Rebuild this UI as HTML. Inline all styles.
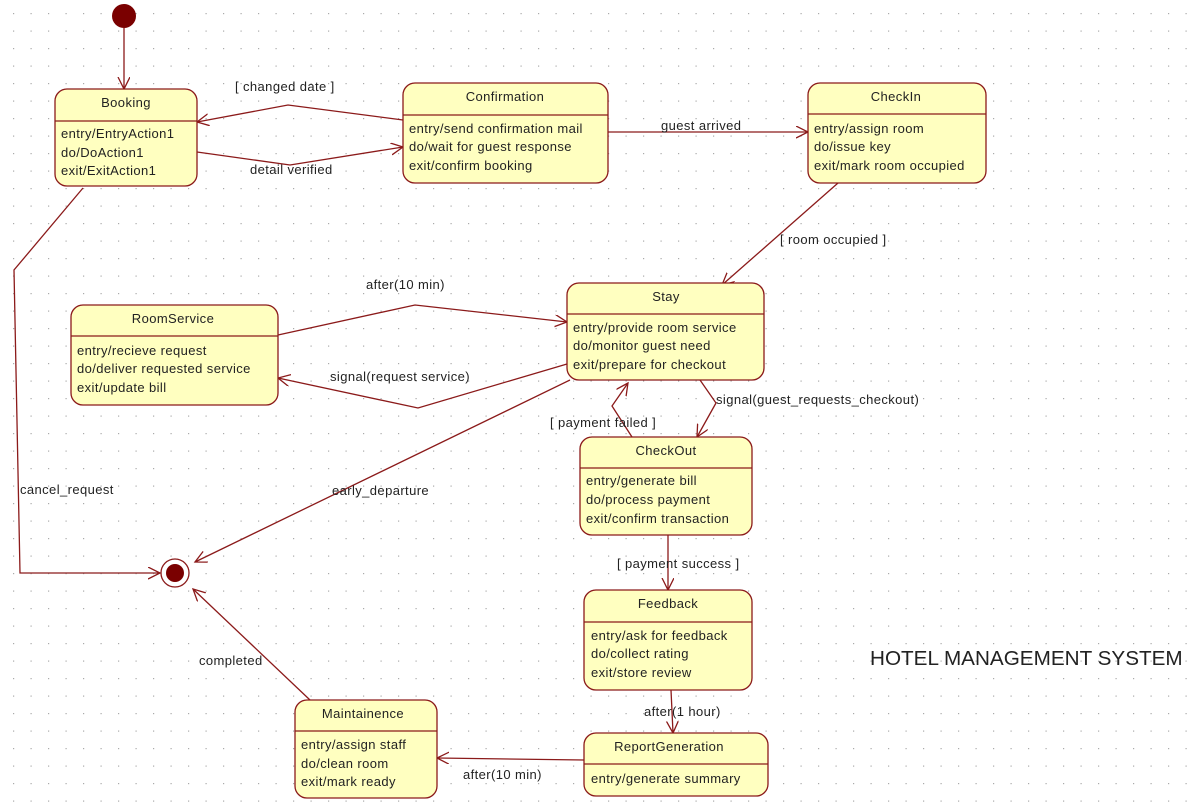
<!DOCTYPE html>
<html><head><meta charset="utf-8"><style>
html,body{margin:0;padding:0;background:#fff;}
svg{display:block;}
text{font-family:"Liberation Sans","DejaVu Sans",sans-serif;font-size:13px;letter-spacing:0.4px;fill:#222;}
.b{fill:#ffffc0;stroke:#8b1a1a;stroke-width:1.3;}
.l{stroke:#8b1a1a;stroke-width:1.3;fill:none;}
.e{stroke:#8b1a1a;stroke-width:1.3;fill:none;marker-end:url(#a);}
.t{text-anchor:middle;}
</style></head><body>
<svg width="1200" height="807" viewBox="0 0 1200 807" xmlns="http://www.w3.org/2000/svg">
<defs>
<pattern id="g" width="17.5" height="17.5" patternUnits="userSpaceOnUse" x="5" y="5"><rect x="8" y="8" width="1.2" height="1.2" fill="#aaa"/></pattern>
<marker id="a" markerWidth="14" markerHeight="14" refX="12" refY="6" orient="auto" markerUnits="userSpaceOnUse"><path d="M0,0 L12,6 L0,12" fill="none" stroke="#8b1a1a" stroke-width="1.3"/></marker>
</defs>
<rect width="1200" height="807" fill="url(#g)"/>

<circle cx="124" cy="16" r="12" fill="#7a0000"/>
<path class="e" d="M124,28 L124,89"/>
<path class="e" d="M403,120 L288,105 L197,122"/>
<path class="e" d="M197,152 L290,165 L403,147"/>
<path class="e" d="M608,132 L808,132"/>
<path class="e" d="M838,183 L722,285"/>
<path class="e" d="M278,335 L415,305 L567,322"/>
<path class="e" d="M567,364 L418,408 L278,378"/>
<path class="e" d="M700,380 L716,403 L697,437"/>
<path class="e" d="M632,437 L612,406 L628,383"/>
<path class="e" d="M668,535 L668,590"/>
<path class="e" d="M671,690 L673,733"/>
<path class="e" d="M584,760 L437,758"/>
<path class="e" d="M570,380 L195,562"/>
<path class="e" d="M310,700 L193,589"/>
<path class="e" d="M83,188 L14,270 L20,573 L160,573"/>
<circle cx="175" cy="573" r="14" fill="#fff" stroke="#8b1a1a" stroke-width="1.3"/>
<circle cx="175" cy="573" r="9" fill="#7a0000"/>

<text x="235" y="91">[ changed date ]</text>
<text x="250" y="174">detail verified</text>
<text x="661" y="130">guest arrived</text>
<text x="780" y="244">[ room occupied ]</text>
<text x="366" y="289">after(10 min)</text>
<text x="330" y="381">signal(request service)</text>
<text x="716" y="404">signal(guest_requests_checkout)</text>
<text x="550" y="427">[ payment failed ]</text>
<text x="332" y="495">early_departure</text>
<text x="20" y="494">cancel_request</text>
<text x="617" y="568">[ payment success ]</text>
<text x="644" y="716">after(1 hour)</text>
<text x="463" y="779">after(10 min)</text>
<text x="199" y="665">completed</text>
<text x="870" y="665" style="font-size:20.7px;letter-spacing:0">HOTEL MANAGEMENT SYSTEM</text>

<rect class="b" x="55" y="89" width="142" height="97" rx="12"/><path class="l" d="M55,121 H197"/>
<text class="t" x="126" y="107">Booking</text>
<text x="61" y="138">entry/EntryAction1</text><text x="61" y="157">do/DoAction1</text><text x="61" y="175">exit/ExitAction1</text>

<rect class="b" x="403" y="83" width="205" height="100" rx="12"/><path class="l" d="M403,115 H608"/>
<text class="t" x="505" y="101">Confirmation</text>
<text x="409" y="133">entry/send confirmation mail</text><text x="409" y="151">do/wait for guest response</text><text x="409" y="170">exit/confirm booking</text>

<rect class="b" x="808" y="83" width="178" height="100" rx="12"/><path class="l" d="M808,114 H986"/>
<text class="t" x="896" y="101">CheckIn</text>
<text x="814" y="133">entry/assign room</text><text x="814" y="151">do/issue key</text><text x="814" y="170">exit/mark room occupied</text>

<rect class="b" x="567" y="283" width="197" height="97" rx="12"/><path class="l" d="M567,314 H764"/>
<text class="t" x="666" y="301">Stay</text>
<text x="573" y="332">entry/provide room service</text><text x="573" y="350">do/monitor guest need</text><text x="573" y="369">exit/prepare for checkout</text>

<rect class="b" x="71" y="305" width="207" height="100" rx="12"/><path class="l" d="M71,336 H278"/>
<text class="t" x="173" y="323">RoomService</text>
<text x="77" y="355">entry/recieve request</text><text x="77" y="373">do/deliver requested service</text><text x="77" y="392">exit/update bill</text>

<rect class="b" x="580" y="437" width="172" height="98" rx="12"/><path class="l" d="M580,468 H752"/>
<text class="t" x="666" y="455">CheckOut</text>
<text x="586" y="485">entry/generate bill</text><text x="586" y="504">do/process payment</text><text x="586" y="523">exit/confirm transaction</text>

<rect class="b" x="584" y="590" width="168" height="100" rx="12"/><path class="l" d="M584,622 H752"/>
<text class="t" x="668" y="608">Feedback</text>
<text x="591" y="640">entry/ask for feedback</text><text x="591" y="658">do/collect rating</text><text x="591" y="677">exit/store review</text>

<rect class="b" x="584" y="733" width="184" height="63" rx="12"/><path class="l" d="M584,764 H768"/>
<text class="t" x="669" y="751">ReportGeneration</text>
<text x="591" y="783">entry/generate summary</text>

<rect class="b" x="295" y="700" width="142" height="98" rx="12"/><path class="l" d="M295,731 H437"/>
<text class="t" x="363" y="718">Maintainence</text>
<text x="301" y="749">entry/assign staff</text><text x="301" y="768">do/clean room</text><text x="301" y="786">exit/mark ready</text>
</svg>
</body></html>
